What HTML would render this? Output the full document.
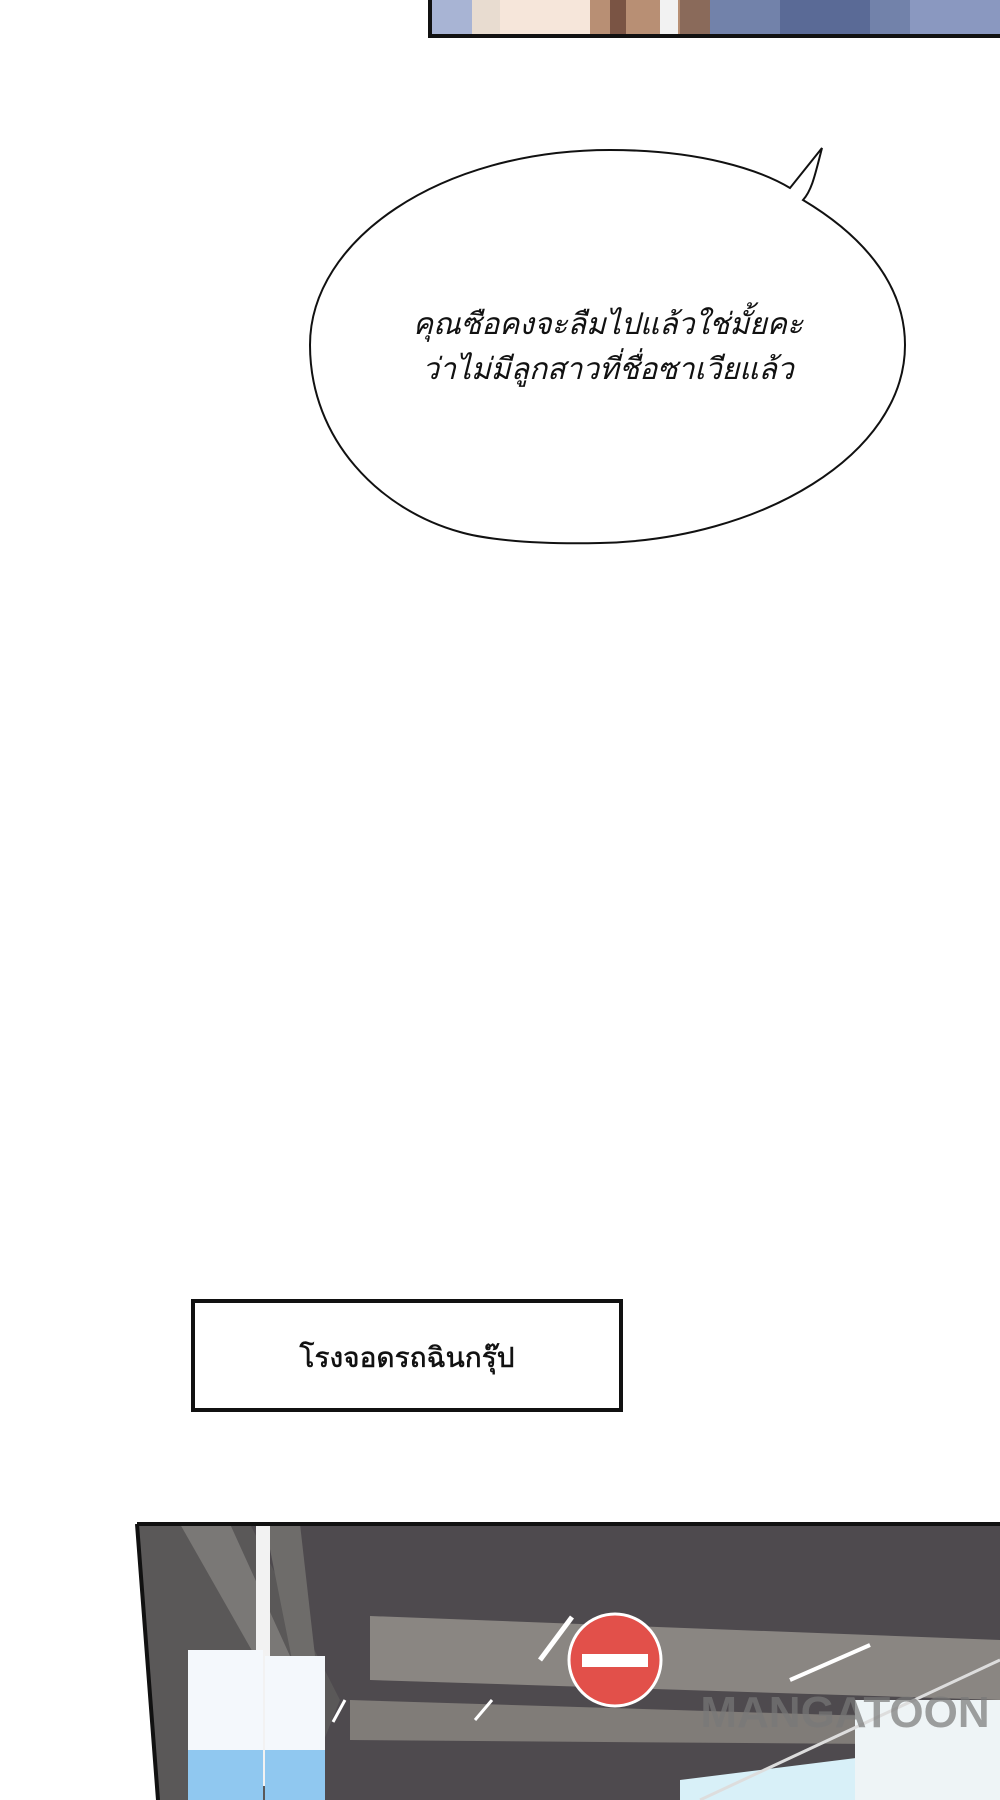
<!DOCTYPE html>
<html><head><meta charset="utf-8"><style>
html,body{margin:0;padding:0;background:#fff;width:1000px;height:1800px;overflow:hidden}
svg{display:block}
text{font-family:"Liberation Sans","Noto Sans CJK SC",sans-serif}
</style></head><body>
<svg width="1000" height="1800" viewBox="0 0 1000 1800">
<defs>
<clipPath id="tp"><rect x="432" y="0" width="568" height="34"/></clipPath>
<clipPath id="bp"><polygon points="137,1524 1000,1524 1000,1800 158,1800"/></clipPath>
</defs>
<g clip-path="url(#tp)">
<rect x="432" y="0" width="568" height="34" fill="#e8dcd0"/>
<rect x="500" y="0" width="90" height="34" fill="#f6e6da"/>
<rect x="590" y="0" width="110" height="34" fill="#b88f74"/>
<rect x="610" y="0" width="16" height="34" fill="#7a5444"/>
<rect x="660" y="0" width="18" height="34" fill="#f2f2f2"/>
<rect x="680" y="0" width="30" height="34" fill="#8a6a5a"/>
<rect x="710" y="0" width="200" height="34" fill="#7282aa"/>
<rect x="780" y="0" width="90" height="34" fill="#5a6a96"/>
<rect x="910" y="0" width="90" height="34" fill="#8a98c0"/>
<rect x="432" y="0" width="40" height="34" fill="#a8b4d4"/>
</g>
<path d="M430 0 V36 H1000" fill="none" stroke="#111" stroke-width="4"/>
<g>
<path d="M803 200 C 870 240, 905 290, 905 345 C 905 455, 760 540, 600 543 C 510 545, 470 535, 460 532 C 380 510, 310 440, 310 345 C 310 240, 440 150, 610 150 C 700 150, 760 170, 790 188 L 822 148 C 815 175, 812 190, 803 200 Z" fill="#fff" stroke="#111" stroke-width="2"/>
<text x="608" y="334" font-size="30" font-style="italic" text-anchor="middle" fill="#111">คุณซือคงจะลืมไปแล้วใช่มั้ยคะ</text>
<text x="608" y="379" font-size="30" font-style="italic" text-anchor="middle" fill="#111">ว่าไม่มีลูกสาวที่ชื่อซาเวียแล้ว</text>
</g>
<g>
<rect x="193" y="1301" width="428" height="109" fill="#fff" stroke="#111" stroke-width="4"/>
<text x="407" y="1367" font-size="28" text-anchor="middle" fill="#111" stroke="#111" stroke-width="0.6">โรงจอดรถฉินกรุ๊ป</text>
</g>
<g clip-path="url(#bp)">
<rect x="130" y="1520" width="870" height="280" fill="#4e4a4e"/>
<polygon points="130,1524 250,1524 340,1700 300,1800 130,1800" fill="#5a5858"/>
<polygon points="180,1524 230,1524 310,1700 280,1700" fill="#7a7876"/>
<polygon points="265,1524 300,1524 320,1700 300,1700" fill="#6e6c6a"/>
<polygon points="370,1616 1000,1640 1000,1700 370,1680" fill="#8a8682"/>
<polygon points="350,1700 1000,1720 1000,1745 350,1740" fill="#807c78"/>
<rect x="256" y="1526" width="14" height="260" fill="#f2f2f2"/>
<rect x="188" y="1650" width="75" height="150" fill="#f4f8fc"/>
<rect x="188" y="1750" width="75" height="50" fill="#90c8f0"/>
<rect x="265" y="1656" width="60" height="144" fill="#f4f8fc"/>
<rect x="265" y="1750" width="60" height="50" fill="#90c8f0"/>
<polygon points="680,1780 1000,1740 1000,1800 680,1800" fill="#d8f0f8"/>
<rect x="855" y="1700" width="145" height="100" fill="#eef4f6"/>
<line x1="540" y1="1660" x2="572" y2="1617" stroke="#fff" stroke-width="5"/>
<line x1="790" y1="1680" x2="870" y2="1645" stroke="#fff" stroke-width="4"/>
<line x1="333" y1="1722" x2="345" y2="1700" stroke="#fff" stroke-width="3"/>
<line x1="475" y1="1720" x2="492" y2="1700" stroke="#fff" stroke-width="3"/>
<line x1="700" y1="1800" x2="1000" y2="1660" stroke="#ddd" stroke-width="3"/>
<circle cx="615" cy="1660" r="46" fill="#e2504a" stroke="#fff" stroke-width="3"/>
<rect x="582" y="1654" width="66" height="13" fill="#fff"/>
<text x="845" y="1727" font-size="44" font-weight="bold" fill="#777" fill-opacity="0.7" text-anchor="middle">MANGATOON</text>
</g>
<path d="M137 1524 H1000 M137 1524 L158 1800" fill="none" stroke="#111" stroke-width="4"/>
</svg>
</body></html>
